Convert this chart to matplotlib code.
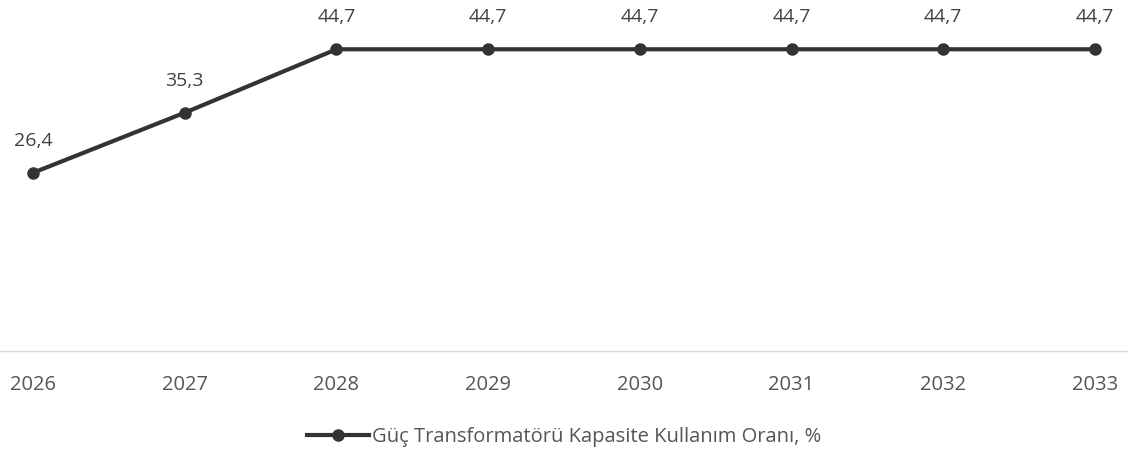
import matplotlib
matplotlib.use("Agg")
import matplotlib.pyplot as plt

years = ["2026", "2027", "2028", "2029", "2030", "2031", "2032", "2033"]
values = [26.4, 35.3, 44.7, 44.7, 44.7, 44.7, 44.7, 44.7]
series_name = "Güç Transformatörü Kapasite Kullanım Oranı, %"

plt.rcParams['font.family'] = ['Open Sans', 'DejaVu Sans']

fig = plt.figure(figsize=(11.28, 4.57), dpi=100)
ax = fig.add_axes([0, 0.232, 1, 0.768])
x = list(range(len(years)))
color = "#333333"
line, = ax.plot(x, values, color=color, lw=3, marker="o", markersize=8, label=series_name)
for xi, v in zip(x, values):
    ax.annotate(f"{v:.1f}".replace(".", ","), (xi, v), xytext=(0, 23), textcoords="offset points",
                ha="center", va="center", fontsize=14, color="#404040")
ax.set_xlim(-0.2175, 7.2175)
ax.set_ylim(0, 52)
ax.set_xticks(x)
ax.set_xticklabels(years, fontsize=14.5, color="#555555")
ax.tick_params(axis="x", length=0, pad=17)
ax.set_yticks([])
for s in ["top", "right", "left"]:
    ax.spines[s].set_visible(False)
ax.spines["bottom"].set_color("#d9d9d9")
ax.spines["bottom"].set_linewidth(1)
fig.legend(handles=[line], loc="center", bbox_to_anchor=(0.5, 0.044), frameon=False,
           fontsize=14.5, labelcolor="#555555", handlelength=3.1, handletextpad=0.15)
fig.savefig("out.png", dpi=100)
